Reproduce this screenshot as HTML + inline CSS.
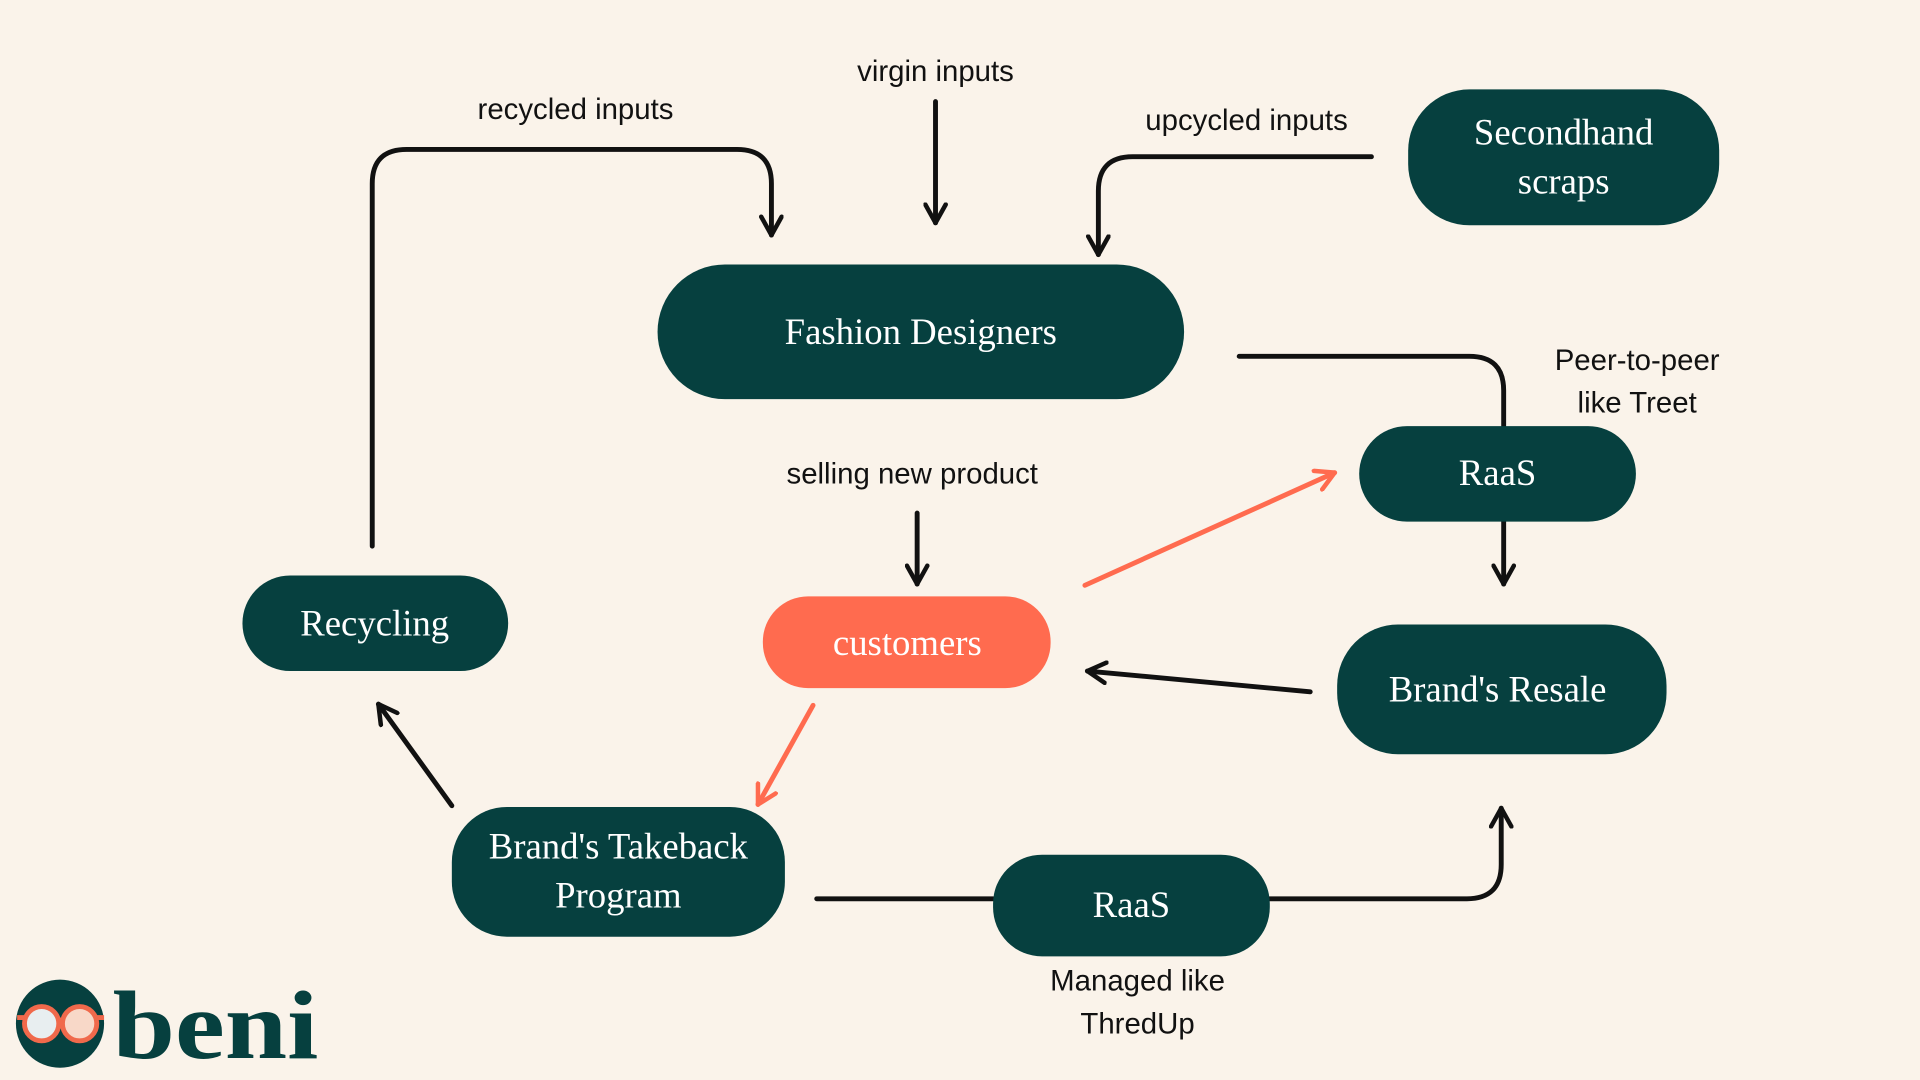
<!DOCTYPE html>
<html><head><meta charset="utf-8"><style>
html,body{margin:0;padding:0;background:#faf3ea;}
svg{display:block}
.n{font-family:"Liberation Serif",serif;font-size:30px;fill:#fff;text-anchor:middle}
.l{font-family:"Liberation Sans",sans-serif;font-size:24px;fill:#111;text-anchor:middle}
.k{fill:none;stroke:#111;stroke-width:4;stroke-linecap:round;stroke-linejoin:round}
.o{fill:none;stroke:#ff6b4f;stroke-width:4;stroke-linecap:round}
</style></head><body>
<svg width="1920" height="1080" viewBox="0 0 1568 882" xmlns="http://www.w3.org/2000/svg">
<defs>
<marker id="a" viewBox="0 0 12 12" refX="10" refY="6" markerWidth="5" markerHeight="5" orient="auto" markerUnits="strokeWidth"><path d="M1,1 L10,6 L1,11" fill="none" stroke="#111" stroke-width="2.2" stroke-linecap="round" stroke-linejoin="round"/></marker>
<marker id="b" viewBox="0 0 12 12" refX="10" refY="6" markerWidth="5" markerHeight="5" orient="auto" markerUnits="strokeWidth"><path d="M1,1 L10,6 L1,11" fill="none" stroke="#ff6b4f" stroke-width="2.2" stroke-linecap="round" stroke-linejoin="round"/></marker>
</defs>
<rect width="1568" height="882" fill="#faf3ea"/>
<path class="k" d="M304,446 V150 Q304,122 332,122 H602 Q630,122 630,150 V192" marker-end="url(#a)"/>
<path class="k" d="M764,83 V182" marker-end="url(#a)"/>
<path class="k" d="M1120,128 H925 Q897,128 897,156 V208" marker-end="url(#a)"/>
<path class="k" d="M1012,291 H1200 Q1228,291 1228,319 V348"/>
<path class="k" d="M1228,426 V477" marker-end="url(#a)"/>
<path class="k" d="M749,419 V477" marker-end="url(#a)"/>
<path class="o" d="M886,478 L1090,386" marker-end="url(#b)"/>
<path class="k" d="M1070,565 L888,548" marker-end="url(#a)"/>
<path class="o" d="M664,576 L619,657" marker-end="url(#b)"/>
<path class="k" d="M369,658 L309,575" marker-end="url(#a)"/>
<path class="k" d="M667,734 H811"/>
<path class="k" d="M1037,734 H1198 Q1226,734 1226,706 V660" marker-end="url(#a)"/>
<rect x="1150" y="73" width="254" height="111" rx="50" fill="#06403f"/>
<text class="n" x="1277" y="118">Secondhand</text><text class="n" x="1277" y="158">scraps</text>
<rect x="537" y="216" width="430" height="110" rx="55" fill="#06403f"/>
<text class="n" x="752" y="281">Fashion Designers</text>
<rect x="1110" y="348" width="226" height="78" rx="39" fill="#06403f"/>
<text class="n" x="1223" y="396">RaaS</text>
<rect x="198" y="470" width="217" height="78" rx="39" fill="#06403f"/>
<text class="n" x="306" y="519">Recycling</text>
<rect x="623" y="487" width="235" height="75" rx="37" fill="#ff6b4f"/>
<text class="n" x="741" y="535">customers</text>
<rect x="1092" y="510" width="269" height="106" rx="50" fill="#06403f"/>
<text class="n" x="1223" y="573">Brand's Resale</text>
<rect x="369" y="659" width="272" height="106" rx="45" fill="#06403f"/>
<text class="n" x="505" y="701">Brand's Takeback</text><text class="n" x="505" y="741">Program</text>
<rect x="811" y="698" width="226" height="83" rx="40" fill="#06403f"/>
<text class="n" x="924" y="749">RaaS</text>
<text class="l" x="470" y="97">recycled inputs</text>
<text class="l" x="764" y="66">virgin inputs</text>
<text class="l" x="1018" y="106">upcycled inputs</text>
<text class="l" x="1337" y="302">Peer-to-peer</text>
<text class="l" x="1337" y="337">like Treet</text>
<text class="l" x="745" y="395">selling new product</text>
<text class="l" x="929" y="809">Managed like</text>
<text class="l" x="929" y="844">ThredUp</text>
<circle cx="49" cy="836" r="36" fill="#06403f"/>
<circle cx="34" cy="836" r="14" fill="#e8eef0" stroke="#f0694b" stroke-width="4"/>
<circle cx="65" cy="836" r="14" fill="#f8d8c8" stroke="#f0694b" stroke-width="4"/>
<path d="M20,831 H14 M48,833 H51 M79,831 H85" stroke="#f0694b" stroke-width="4"/>
<text x="92" y="864" font-family="Liberation Serif,serif" font-weight="bold" font-size="80" fill="#06403f" textLength="168" lengthAdjust="spacingAndGlyphs">beni</text>
</svg>
</body></html>
